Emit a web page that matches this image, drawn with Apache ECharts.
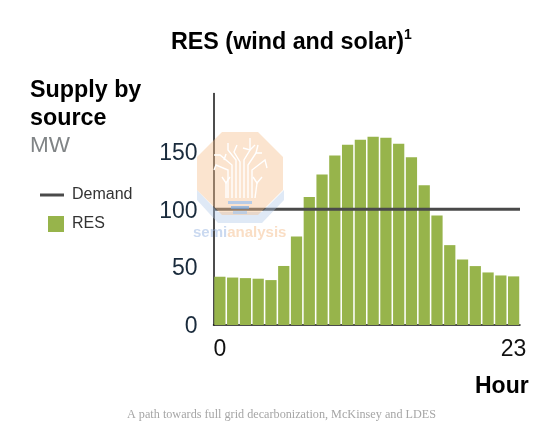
<!DOCTYPE html>
<html>
<head>
<meta charset="utf-8">
<style>html,body{margin:0;padding:0;background:#fff}#chart{width:554px;height:435px}</style>
<script src="https://cdn.jsdelivr.net/npm/echarts@6/dist/echarts.min.js"></script>
</head>
<body>
<div id="chart"></div>
<script>
// Hourly supply and demand, MW
const hours = ['0','1','2','3','4','5','6','7','8','9','10','11','12','13','14','15','16','17','18','19','20','21','22','23'];
const resSupply = [41.7,41,40.5,40,38.8,51,76.4,110.6,130,146.5,155.7,160,162.6,161.8,156.6,145,120.7,94.5,69,56.6,50.9,45.4,42.8,42];
const demand = [100,100,100,100,100,100,100,100,100,100,100,100,100,100,100,100,100,100,100,100,100,100,100,100];
const valueTicks = [0,50,100,150];

const sans = '"Liberation Sans", Arial, sans-serif';

// Branches of the tree in the logo
const treeBranches = [
  [[232,198],[232,165],[220,155],[214,155]],
  [[236,198],[236,160],[228,150],[228,143]],
  [[240,198],[240,162],[234,152],[237,145]],
  [[244,198],[244,160],[250,150],[250,138]],
  [[248,198],[248,165],[256,153],[262,153]],
  [[228,198],[228,170],[216,165],[214,170]],
  [[252,198],[252,170],[265,160],[267,168]],
  [[226,198],[226,183]],[[222,177],[226,183],[230,177]],
  [[255,198],[257,183]],[[253,177],[257,183],[262,177]],
  [[243,148],[250,150],[255,145]],[[224,160],[226,154]],[[256,153],[258,145]]
];
const logo = [
  { type:'polygon', z:50, shape:{points:[[197,190],[218,212],[262,212],[284,190],[284,200],[262,223],[218,223],[197,200]]}, style:{fill:'rgba(176,200,232,0.4)'} },
  { type:'polygon', z:51, shape:{points:[[222,132],[258,132],[283,157],[283,190],[258,215],[222,215],[197,190],[197,157]]}, style:{fill:'rgba(245,190,140,0.42)'} },
  { type:'rect', z:52, shape:{x:228,y:201,width:24,height:3}, style:{fill:'rgba(170,200,235,0.85)'} },
  { type:'rect', z:52, shape:{x:231,y:206,width:18,height:3}, style:{fill:'rgba(120,170,225,0.7)'} },
  { type:'rect', z:52, shape:{x:233,y:211,width:14,height:3}, style:{fill:'rgba(170,200,235,0.7)'} },
  ...treeBranches.map(points => ({ type:'polyline', z:52, shape:{points}, style:{stroke:'#fff', lineWidth:1.4, fill:null} })),
  { type:'text', z:53, x:193, y:225, style:{
      text:'{a|semi}{b|analysis}',
      rich:{ a:{fill:'rgba(150,180,225,0.5)', font:'bold 15px '+sans}, b:{fill:'rgba(245,190,140,0.5)', font:'bold 15px '+sans} }
  } }
];

const chart = echarts.init(document.getElementById('chart'), null, {renderer:'canvas'});
chart.setOption({
  animation:false,
  backgroundColor:'#fff',
  title:[
    { text:'{t|RES (wind and solar)}{s|1}', left:171, top:28, padding:0, textStyle:{ rich:{
        t:{fontFamily:sans, fontWeight:'bold', fontSize:23.3, color:'#000', lineHeight:30},
        s:{fontFamily:sans, fontWeight:'bold', fontSize:14, color:'#000', verticalAlign:'top', lineHeight:30, padding:[0,0,10,0]}
    } } },
    { text:'Supply by\nsource', left:30, top:77, padding:0, textStyle:{fontFamily:sans, fontWeight:'bold', fontSize:23.3, color:'#000', lineHeight:28} },
    { text:'MW', left:30, top:134, padding:0, textStyle:{fontFamily:sans, fontWeight:'normal', fontSize:22.5, color:'#808486'} },
    { text:'Hour', left:475, top:375, padding:0, textStyle:{fontFamily:sans, fontWeight:'bold', fontSize:23, color:'#000'} },
    { text:'A path towards full grid decarbonization, McKinsey and LDES', left:127, top:409, padding:0, textStyle:{fontFamily:'"Liberation Serif", serif', fontWeight:'normal', fontSize:12.2, color:'#a6a6a6'} }
  ],
  legend:{
    orient:'vertical', left:40, top:187, padding:0, itemWidth:24, itemHeight:16, itemGap:13,
    textStyle:{fontFamily:sans, fontSize:16, color:'#333', padding:[0,0,0,3]},
    data:[
      {name:'Demand', icon:'path://M0 0H24V3H0Z'},
      {name:'RES', icon:'path://M0 0L0 0M8 0H24V16H8Z'}
    ]
  },
  grid:{left:213.5, right:34, top:93.5, bottom:110},
  xAxis:[
    { type:'category', data:hours, boundaryGap:true,
      axisLine:{lineStyle:{color:'#111', width:1.5}}, axisTick:{show:false},
      axisLabel:{interval:(i)=>i===0||i===hours.length-1, fontFamily:sans, fontSize:23, color:'#111', margin:13} },
    { type:'category', data:hours, boundaryGap:false, show:false }
  ],
  yAxis:{ type:'value', min:0, max:200, interval:50,
    axisLine:{show:true, lineStyle:{color:'#111', width:1.5}}, axisTick:{show:false}, splitLine:{show:false},
    axisLabel:{margin:16, formatter:(v)=>valueTicks.includes(v)?'{v|'+v+'}':'',
      rich:{v:{fontFamily:sans, fontSize:23, color:'#1a2b3c', padding:[4,0,0,0]}}} },
  series:[
    { name:'RES', type:'bar', data:resSupply, barWidth:'88%', itemStyle:{color:'#97b44b'}, z:2 },
    { name:'Demand', type:'line', xAxisIndex:1, data:demand, symbol:'none', lineStyle:{color:'#4a4a4a', width:3}, itemStyle:{color:'#4a4a4a'}, z:3 }
  ],
  graphic:logo
});
</script>
</body>
</html>
